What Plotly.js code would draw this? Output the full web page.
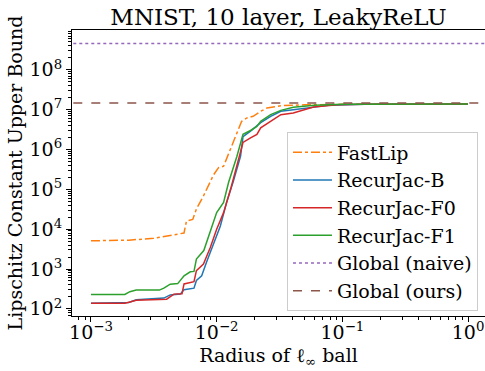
<!DOCTYPE html>
<html><head><meta charset="utf-8">
<script src="https://cdn.plot.ly/plotly-3.0.1.min.js"></script>
<style>html,body{margin:0;padding:0;background:#fff}#chart{width:485px;height:371px}</style>
</head><body><div id="chart"></div>
<script>
// ---- data ----
const fastlipX = [1e-3, 1.86e-3, 2.0e-3, 3.16e-3, 3.98e-3, 5.13e-3, 5.5e-3, 5.75e-3, 6.45e-3, 6.9e-3, 7.85e-3, 9.44e-3, 1.035e-2, 1.135e-2, 1.29e-2, 1.58e-2, 1.74e-2, 1.95e-2, 2.24e-2, 2.51e-2, 3.24e-2, 5.0e-2, 0.1, 1.0];
const fastlipY = [5.1e3, 5.1e3, 5.3e3, 5.9e3, 6.8e3, 7.9e3, 8.0e3, 1.6e4, 1.75e4, 3.2e4, 6.8e4, 2.3e5, 3.5e5, 3.8e5, 1.0e6, 5.1e6, 6.2e6, 6.8e6, 9.1e6, 1.1e7, 1.26e7, 1.32e7, 1.36e7, 1.38e7];

const recBX = [1e-3, 1.86e-3, 2.0e-3, 2.29e-3, 3.8e-3, 4.27e-3, 5.13e-3, 5.5e-3, 6.6e-3, 6.9e-3, 7.6e-3, 8.3e-3, 9.3e-3, 1.07e-2, 1.2e-2, 1.35e-2, 1.55e-2, 1.62e-2, 1.86e-2, 2.24e-2, 2.69e-2, 3.24e-2, 4.07e-2, 5.6e-2, 8e-2, 0.15, 1.0];
const recBY = [139, 139, 145, 168, 186, 224, 234, 302, 331, 513, 676, 1480, 3800, 1.2e4, 4.7e4, 1.5e5, 6.8e5, 2.1e6, 2.9e6, 4.7e6, 6.8e6, 9.1e6, 1.0e7, 1.15e7, 1.3e7, 1.36e7, 1.38e7];

const recF0X = [1e-3, 1.86e-3, 2.04e-3, 2.29e-3, 4.0e-3, 4.57e-3, 5.3e-3, 5.5e-3, 6.6e-3, 6.9e-3, 7.85e-3, 8.9e-3, 1.0e-2, 1.135e-2, 1.29e-2, 1.45e-2, 1.62e-2, 1.86e-2, 2.09e-2, 2.24e-2, 2.69e-2, 3.24e-2, 4.07e-2, 5.6e-2, 5.9e-2, 9.1e-2, 0.15, 1.0];
const recF0Y = [139, 139, 148, 165, 175, 234, 240, 422, 479, 912, 1330, 3470, 1.0e4, 2.6e4, 1.0e5, 3.8e5, 1.5e6, 1.95e6, 2.4e6, 3.5e6, 5.1e6, 7.5e6, 8.3e6, 1.1e7, 1.17e7, 1.32e7, 1.36e7, 1.38e7];

const recF1X = [1e-3, 1.86e-3, 2.04e-3, 2.29e-3, 3.5e-3, 3.8e-3, 4.27e-3, 4.9e-3, 5.5e-3, 6.17e-3, 6.6e-3, 6.9e-3, 7.9e-3, 8.9e-3, 1.0e-2, 1.135e-2, 1.245e-2, 1.45e-2, 1.62e-2, 1.86e-2, 2.09e-2, 2.24e-2, 2.69e-2, 3.24e-2, 4.07e-2, 6e-2, 0.1, 1.0];
const recF1Y = [229, 229, 270, 295, 295, 331, 417, 430, 676, 851, 870, 1780, 2900, 8300, 2.6e4, 4.7e4, 1.5e5, 6.8e5, 2.4e6, 3.0e6, 3.8e6, 5.1e6, 7.5e6, 9.6e6, 1.15e7, 1.3e7, 1.36e7, 1.38e7];

const globalNaive = 4.6e8;
const globalOurs = 1.47e7;
const hlineX = [1e-4, 10];

const xTickVals = [1e-3, 1e-2, 1e-1, 1];
const xTickText = ['10<sup>−3</sup>', '10<sup>−2</sup>', '10<sup>−1</sup>', '10<sup>0</sup>'];
const yTickVals = [1e2, 1e3, 1e4, 1e5, 1e6, 1e7, 1e8];
const yTickText = ['10<sup>2</sup>', '10<sup>3</sup>', '10<sup>4</sup>', '10<sup>5</sup>', '10<sup>6</sup>', '10<sup>7</sup>', '10<sup>8</sup>'];

// ---- minor ticks (axis decoration) ----
function minorTicks(lo, hi) {
  const out = [];
  for (let e = lo; e <= hi; e++) for (let m = 2; m <= 9; m++) out.push(m * Math.pow(10, e));
  return out;
}

const FONT = 'DejaVu Serif';
const traces = [
  {x: fastlipX, y: fastlipY, name: 'FastLip', mode: 'lines', line: {color: '#ff7f0e', width: 1.5, dash: 'dashdot'}},
  {x: recBX, y: recBY, name: 'RecurJac-B', mode: 'lines', line: {color: '#1f77b4', width: 1.5}},
  {x: recF0X, y: recF0Y, name: 'RecurJac-F0', mode: 'lines', line: {color: '#d62728', width: 1.5}},
  {x: recF1X, y: recF1Y, name: 'RecurJac-F1', mode: 'lines', line: {color: '#2ca02c', width: 1.5}},
  {x: hlineX, y: [globalNaive, globalNaive], name: 'Global (naive)', mode: 'lines', line: {color: '#9467bd', width: 1.5, dash: 'dot'}},
  {x: hlineX, y: [globalOurs, globalOurs], name: 'Global (ours)', mode: 'lines', line: {color: '#8c564b', width: 1.5, dash: 'dash'}}
];

const layout = {
  width: 485, height: 371,
  margin: {l: 72, r: 0, t: 30, b: 55},
  paper_bgcolor: '#fff', plot_bgcolor: '#fff',
  font: {family: FONT, size: 19, color: '#000'},
  title: {text: 'MNIST, 10 layer, LeakyReLU', font: {family: FONT, size: 23, color: '#000'},
          x: 0.5, xref: 'paper', xanchor: 'center', y: 1 - 17/371, yref: 'container', yanchor: 'middle'},
  showlegend: true,
  legend: {x: 0.983, y: 0.016, xanchor: 'right', yanchor: 'bottom', bgcolor: 'rgba(255,255,255,0.8)',
           bordercolor: '#cccccc', borderwidth: 1, itemwidth: 39,
           font: {family: FONT, size: 19, color: '#000'}},
  xaxis: {type: 'log', range: [-3.151, 0.135], showgrid: false, zeroline: false,
          showline: true, mirror: true, linecolor: '#000', linewidth: 1,
          ticks: 'outside', ticklen: 5, tickwidth: 1, tickcolor: '#000',
          tickmode: 'array', tickvals: xTickVals, ticktext: xTickText, ticklabelstandoff: -6,
          tickfont: {family: FONT, size: 19, color: '#000'},
          minor: {tickmode: 'array', tickvals: minorTicks(-4, 0), ticks: 'outside', ticklen: 3, tickcolor: '#000', showgrid: false},
          title: {text: 'Radius of ℓ<sub>∞</sub> ball', font: {family: FONT, size: 19, color: '#000'}, standoff: 6}},
  yaxis: {type: 'log', range: [1.82, 9.0], showgrid: false, zeroline: false,
          showline: true, mirror: true, linecolor: '#000', linewidth: 1,
          ticks: 'outside', ticklen: 5, tickwidth: 1, tickcolor: '#000',
          tickmode: 'array', tickvals: yTickVals, ticktext: yTickText,
          tickfont: {family: FONT, size: 19, color: '#000'},
          minor: {tickmode: 'array', tickvals: minorTicks(1, 8), ticks: 'outside', ticklen: 3, tickcolor: '#000', showgrid: false},
          title: {text: 'Lipschitz Constant Upper Bound', font: {family: FONT, size: 19, color: '#000'}, standoff: 1}}
};

Plotly.newPlot('chart', traces, layout, {displayModeBar: false, staticPlot: true});
</script>
</body></html>
